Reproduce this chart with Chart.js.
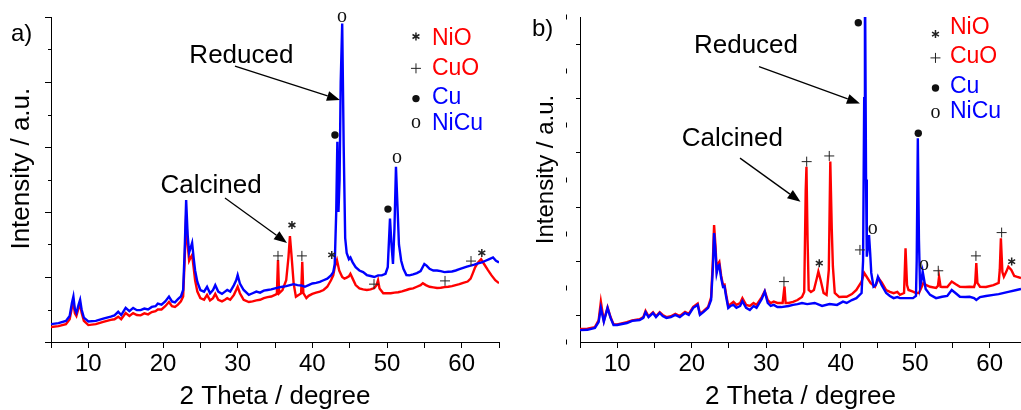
<!DOCTYPE html>
<html>
<head>
<meta charset="utf-8">
<script src="https://cdn.jsdelivr.net/npm/chart.js@4.4.1/dist/chart.umd.min.js"></script>
<style>
  html, body { margin: 0; padding: 0; background: #fff; }
  #wrap { position: relative; width: 1021px; height: 410px; overflow: hidden; }
  .panel { position: absolute; top: 0; height: 410px; }
  #pa { left: 0; width: 510px; }
  #pb { left: 510px; width: 511px; }
</style>
</head>
<body>
<div id="wrap">
  <div class="panel" id="pa"><canvas id="chartA"></canvas></div>
  <div class="panel" id="pb"><canvas id="chartB"></canvas></div>
</div>
<script>
// ── Data: [2theta, intensity] ─────────────────────────────────

// panel a) intensity scale 0-100
const aReduced = [
  [5,5.5],[6,5.8],[7,6.5],[7.5,8],[7.8,12],[8,14],[8.2,10],[8.4,9],[8.7,11.5],[8.9,13],[9.1,10],[9.4,7.5],
  [10,6.3],[11,6.5],[12,7.2],[13,7.8],[13.5,8.2],[14,9.3],[14.4,8.3],[15,10.5],[15.5,9.5],[16,10.5],[16.5,9.8],
  [17,9.8],[17.5,10.3],[18,10],[18.5,10.8],[19,11],[19.3,11.8],[19.8,11.5],[20.3,12.5],[20.8,14],[21.2,12.5],
  [21.6,12.2],[22,13.2],[22.4,14],[22.7,16],[22.9,28],[23.1,43.7],[23.3,33],[23.5,27.5],[23.7,29],[23.9,30.5],
  [24.1,26],[24.3,22],[24.6,18.5],[25,16],[25.5,15.5],[25.9,17],[26.3,15],[26.7,16],[27,17.5],[27.4,15.5],
  [27.9,14.8],[28.3,15.5],[28.6,16],[29,15.5],[29.5,17.5],[29.8,19],[30,20.6],[30.3,18],[30.8,16],[31.5,14.5],
  [32,15],[32.5,15.5],[33,15.2],[33.5,15.8],[34,16],[34.5,16.2],[35,16.5],[35.5,16.8],[36,17],[36.5,17.2],
  [37,17.5],[37.5,17.8],[38,17.5],[38.5,17.4],[39,17],[39.5,17.5],[40,18],[40.5,18.2],[41,18.5],[41.5,19],
  [42,19.5],[42.5,20.5],[42.8,21.5],[43,24],[43.2,40],[43.35,61.6],[43.5,40],[43.65,50],[43.8,80],[44,98],
  [44.2,60],[44.4,32],[44.6,27.4],[44.9,25.5],[45.1,26],[45.4,24.5],[45.8,23],[46.3,22],[46.8,21.5],[47.3,20.6],
  [47.8,20.3],[48.3,20],[48.8,20.5],[49.3,20.5],[49.8,21],[50.1,23],[50.4,38],[50.6,30],[50.8,24],[51,35],
  [51.2,53.9],[51.4,42],[51.6,30],[51.9,25],[52.2,22.5],[52.6,20.6],[53,20.5],[53.5,20.8],[54,21.2],[54.5,21.8],
  [55,24],[55.3,23.5],[55.7,22.5],[56.2,22],[56.7,22],[57.2,21.8],[57.7,21.5],[58.2,21.6],[58.7,21.7],[59.2,22],
  [59.7,22.4],[60.2,22.8],[60.7,23.2],[61.2,23.5],[61.7,23.8],[62.2,24.2],[62.7,24.5],[63.2,25],[63.7,25.5],
  [64.2,26],[64.6,25],[65,24.5]
];

const aCalcined = [
  [5,4.6],[6,4.9],[7,5.5],[7.5,7],[7.8,10.5],[8,12.3],[8.2,8.8],[8.4,8],[8.7,10.5],[8.9,11.7],[9.1,9],[9.4,6.5],
  [10,5.2],[11,5.5],[12,6.2],[13,6.8],[13.5,7],[14,7.8],[14.4,7],[15,8.9],[15.5,8],[16,8.9],[16.5,8.3],[17,8.2],
  [17.5,8.8],[18,8.5],[18.5,9.2],[19,9.5],[19.3,10],[19.8,10],[20.3,11],[20.8,12.3],[21.2,11],[21.6,10.8],
  [22,11.5],[22.4,12.5],[22.7,14],[22.9,25],[23.1,39],[23.3,30],[23.5,25],[23.7,26],[23.9,26.8],[24.1,23],
  [24.3,19],[24.6,15.5],[25,13.5],[25.5,13],[25.9,14.5],[26.3,12.8],[26.7,13.5],[27,14.8],[27.4,13],[27.9,12.5],
  [28.3,13],[28.6,13.5],[29,13],[29.5,14.5],[29.8,16],[30,17],[30.3,15],[30.8,13],[31.5,12.3],[32,12.5],
  [32.5,12.8],[33,13],[33.5,13.5],[34,13.8],[34.5,14],[35,14.5],[35.25,14.8],[35.4,25.2],[35.55,15],[36,16],
  [36.5,19],[36.8,26],[37,32.6],[37.2,27],[37.5,18],[37.8,13.9],[38.2,14.5],[38.5,15],[38.65,24.7],[38.8,15],
  [39.2,13.5],[39.5,14.2],[40,14.8],[40.5,15.2],[41,15.5],[41.5,16],[42,17],[42.5,19],[42.8,20.5],[43,23],
  [43.3,25.2],[43.6,22],[44,20],[44.3,19.5],[44.6,19.8],[44.9,20.2],[45.1,21],[45.4,19.5],[45.8,17.5],
  [46.3,16.5],[46.8,16.2],[47.3,16],[47.8,16.2],[48.3,16.6],[48.6,17.5],[48.8,19],[49,16.5],[49.5,15],[50,15],
  [50.5,15],[51,15.2],[51.5,15.3],[52,15.6],[52.6,16],[53,16.3],[53.5,16.5],[54,17],[54.5,17.5],[54.8,18.1],
  [55.2,17.5],[55.7,17],[56.2,16.8],[56.7,16.6],[57.2,16.7],[57.7,16.9],[58.2,17],[58.7,17.2],[59.2,17.5],
  [59.7,17.8],[60.2,18.2],[60.8,18.6],[61.2,19.5],[61.5,21.2],[61.8,23],[62.2,24.5],[62.6,25.5],[63,24],
  [63.5,22.2],[64,20.5],[64.5,19],[65,18.1]
];

// panel b) intensity scale 0-120
const bReduced = [
  [5,4.4],[6,4.5],[7,5.2],[7.5,7.4],[7.8,12.6],[8.2,7.5],[8.7,12.6],[9.1,8.9],[9.5,6.3],[10,6.3],[11.3,7],
  [12,7.8],[13,8.1],[13.5,8.9],[13.8,11],[14.2,9.2],[14.8,10.7],[15.2,9.2],[15.7,10.7],[16.1,9.6],[16.6,8.9],
  [17.2,9.2],[17.8,10],[18.4,9.2],[19.1,10.7],[19.6,10],[20.2,12.6],[20.8,13.7],[21.1,10],[21.6,11.1],
  [22.2,12.6],[22.6,15.5],[22.85,28],[23,40.2],[23.2,33],[23.35,25.5],[23.55,28],[23.7,28.4],[23.95,23.6],
  [24.2,20.3],[24.4,20.5],[24.6,17],[24.9,12.6],[25.2,13.3],[25.6,13.7],[26,12.6],[26.5,13.3],[26.8,15.1],
  [27.3,12.6],[27.8,11.8],[28.3,13.3],[28.7,12.6],[29.4,15.9],[29.8,18.6],[30.2,14.4],[30.6,13.3],[31,13.7],
  [31.5,12.9],[32,12.9],[33,13.3],[33.6,13.7],[34.2,14],[34.8,14.4],[35.5,14],[36.5,14.4],[37.5,13.3],
  [38.5,14],[39.5,13.7],[40.3,14.9],[40.8,14.4],[41.5,15.5],[42.1,16.2],[42.8,18.1],[43,30],[43.15,90],
  [43.25,140],[43.4,60],[43.5,31.5],[43.65,35],[43.8,39.5],[43.95,33],[44.1,25.5],[44.4,20.4],[44.7,21],
  [45,24.1],[45.5,21],[46.1,18.1],[46.6,17],[47.1,16.2],[47.6,16.6],[47.95,16.2],[49.1,16.2],[49.7,16.2],
  [50.1,17],[50.2,30],[50.35,75.2],[50.5,37.7],[50.65,20.4],[50.85,22.9],[51,26],[51.2,22.9],[51.4,19.6],
  [52,17.4],[52.8,16.2],[53.6,16.7],[54.3,17],[54.9,19.2],[55.4,18.1],[56,16.7],[56.7,16.6],[57.3,16.7],
  [57.9,16.2],[58.2,15.5],[58.7,16.6],[59.5,17],[60.5,17.4],[61.2,17.7],[62.5,18.5],[63.6,19.2],[64.2,19.6]
];

const bCalcined = [
  [5,4.8],[6,4.9],[7,5.5],[7.5,8],[7.8,14.9],[8.2,7.8],[8.7,12.8],[9.1,9.2],[9.5,6.6],[10,6.5],[11.3,7.3],
  [12,8],[13,8.4],[13.5,9.2],[13.8,11.5],[14.2,9.5],[14.8,11],[15.2,9.5],[15.7,11],[16.1,10],[16.6,9.2],
  [17.2,9.5],[17.8,10.4],[18.4,9.6],[19.1,11.1],[19.6,10.4],[20.2,13],[20.8,14.2],[21.1,10.4],[21.6,11.5],
  [22.2,13],[22.6,16.5],[22.85,31],[23,43.2],[23.2,35],[23.35,26.5],[23.55,29],[23.7,29.6],[23.95,24.5],
  [24.2,21],[24.4,21.2],[24.6,17.8],[24.9,13.3],[25.2,14],[25.6,14.8],[26,13.7],[26.5,14.4],[26.8,16.2],
  [27.3,13.7],[27.8,13.3],[28.3,14.4],[28.7,13.7],[29.4,16.6],[29.8,18.8],[30.2,15.5],[30.6,14.4],[31,14.9],
  [31.5,14.4],[32.2,14.4],[32.45,20.5],[32.6,14.4],[33,14.4],[33.6,14.8],[34.2,15.5],[34.8,16.6],[35.1,18.5],
  [35.3,56],[35.4,64.7],[35.55,37.7],[35.7,19.2],[36,18.5],[36.4,19.2],[36.8,23.6],[37,26],[37.3,22.9],
  [37.7,18.1],[38.1,17.4],[38.4,26.6],[38.6,66.6],[38.8,41.4],[38.95,27.8],[39.2,18.1],[39.8,16.6],[40.3,16.7],
  [40.8,16.7],[41.5,17.7],[42.1,19.2],[42.8,22.3],[43.15,25.5],[43.5,24],[44,21.8],[44.6,20.4],[45.1,23.5],
  [45.5,22],[46.1,19.2],[46.6,18.5],[47.1,18],[47.6,18.5],[47.95,17.4],[48.5,18.1],[48.7,34.6],[48.9,21],
  [49.1,19.2],[49.7,18.6],[50.1,18.1],[50.5,18.1],[51.1,21.8],[51.5,21],[52,20.4],[52.8,20],[53.05,20.7],
  [53.2,24.1],[53.4,20.4],[53.6,20.3],[54.3,20.3],[54.9,22.3],[55.4,21.4],[56,20.4],[56.7,20.3],[57.3,20.4],
  [57.9,20.3],[58.05,21.8],[58.2,29.1],[58.35,21.8],[58.7,20.4],[59.5,20.3],[60.5,21],[61.2,21.8],[61.35,26.6],
  [61.5,38.3],[61.7,25.8],[61.9,24.1],[62.2,25.8],[62.5,27.8],[62.9,26.6],[63.3,24.4],[63.6,24.1],[64.2,23.6]
];

// peak markers: [symbol, 2theta, intensity]
const aPeakMarks = [
  ["o", 43.97, 100], ["dot", 43.03, 63.7], ["o", 51.34, 56.6], ["dot", 50.13, 40.9],
  ["*", 37.27, 36], ["+", 35.4, 26.5], ["+", 38.6, 26.5], ["*", 42.6, 26.8],
  ["+", 48.26, 17.8], ["+", 57.77, 18.8], ["+", 61.25, 24.9], ["*", 62.7, 27.4],
];
const bPeakMarks = [
  ["dot", 42.36, 117.9], ["dot", 50.41, 77.1], ["+", 35.43, 66.6], ["+", 38.46, 68.7],
  ["+", 32.38, 22.3], ["*", 37.12, 29.1], ["+", 42.58, 34], ["o", 44.29, 41.4],
  ["o", 51.17, 28.1], ["+", 53.09, 26.3], ["+", 58.15, 31.8], ["+", 61.6, 40.4], ["*", 62.95, 29.7],
];

const phaseNames = ["NiO", "CuO", "Cu", "NiCu"];
const phaseSymbols = ["*", "+", "dot", "o"];
const phaseColors = ["#ff0000", "#ff0000", "#0000ff", "#0000ff"];

const xTitle = "2 Theta / degree";
const yTitle = "Intensity / a.u.";

// ── Drawing helpers ───────────────────────────────────────────

function drawMark(ctx, sym, cx, cy) {
  ctx.save();
  ctx.strokeStyle = "#222";
  ctx.fillStyle = "#111";
  if (sym === "+") {
    ctx.lineWidth = 1;
    ctx.beginPath();
    ctx.moveTo(cx - 5, cy); ctx.lineTo(cx + 5, cy);
    ctx.moveTo(cx, cy - 5); ctx.lineTo(cx, cy + 5);
    ctx.stroke();
  } else if (sym === "*") {
    ctx.lineWidth = 1.5;
    ctx.beginPath();
    for (let k = 0; k < 3; k++) {
      const a = Math.PI / 2 + (k * Math.PI) / 3;
      ctx.moveTo(cx - 4 * Math.cos(a), cy - 4 * Math.sin(a));
      ctx.lineTo(cx + 4 * Math.cos(a), cy + 4 * Math.sin(a));
    }
    ctx.stroke();
  } else if (sym === "dot") {
    ctx.beginPath();
    ctx.arc(cx, cy, 3.7, 0, Math.PI * 2);
    ctx.fill();
  } else if (sym === "o") {
    ctx.font = '20px "Liberation Serif"';
    ctx.textAlign = "center";
    ctx.textBaseline = "alphabetic";
    ctx.fillText("o", cx, cy + 4.5);
  }
  ctx.restore();
}

function drawArrow(ctx, x1, y1, x2, y2) {
  const ang = Math.atan2(y2 - y1, x2 - x1);
  const head = 13, half = 5;
  const bx = x2 - head * Math.cos(ang), by = y2 - head * Math.sin(ang);
  ctx.save();
  ctx.strokeStyle = "#000";
  ctx.fillStyle = "#000";
  ctx.lineWidth = 1.3;
  ctx.beginPath();
  ctx.moveTo(x1, y1);
  ctx.lineTo(bx, by);
  ctx.stroke();
  ctx.beginPath();
  ctx.moveTo(x2, y2);
  ctx.lineTo(bx + half * Math.sin(ang), by - half * Math.cos(ang));
  ctx.lineTo(bx - half * Math.sin(ang), by + half * Math.cos(ang));
  ctx.closePath();
  ctx.fill();
  ctx.restore();
}

// Custom plugin: intensity-axis tick marks, phase markers, arrows and legend
const decorPlugin = {
  id: "xrdDecor",
  afterDraw(chart, args, o) {
    const { ctx, chartArea: area, scales } = chart;
    const px = (v) => scales.x.getPixelForValue(v);
    const py = (v) => scales.y.getPixelForValue(v);
    ctx.save();

    ctx.strokeStyle = "#000";
    ctx.lineWidth = 1;
    for (let v = 0; v <= o.yMax; v += 10) {
      const ty = Math.round(py(v)) + 0.5;
      const major = v % 20 === 0;
      ctx.beginPath();
      if (o.splitTicks) {
        if (major) {
          ctx.moveTo(area.left - 13.5, ty - 3);
          ctx.lineTo(area.left - 13.5, ty + 2);
        } else {
          ctx.moveTo(area.left - 4, ty);
          ctx.lineTo(area.left, ty);
        }
      } else {
        const len = major ? 6 : 3;
        ctx.moveTo(area.left - len, ty);
        ctx.lineTo(area.left, ty);
      }
      ctx.stroke();
    }

    o.marks.forEach(([sym, x, y]) => drawMark(ctx, sym, px(x), py(y)));

    ctx.fillStyle = "#000";
    ctx.font = '26px "Liberation Sans"';
    ctx.textAlign = "center";
    ctx.textBaseline = "middle";
    o.notes.forEach((n) => {
      ctx.fillText(n.text, px(n.x), py(n.y));
      drawArrow(ctx, px(n.from[0]), py(n.from[1]), px(n.to[0]), py(n.to[1]));
    });

    ctx.font = '23px "Liberation Sans"';
    ctx.textAlign = "left";
    phaseNames.forEach((name, i) => {
      drawMark(ctx, phaseSymbols[i], px(o.legend.markX), py(o.legend.markY[i]));
      ctx.fillStyle = phaseColors[i];
      ctx.fillText(name, px(o.legend.textX), py(o.legend.textY[i]));
    });

    ctx.fillStyle = "#000";
    ctx.font = '24px "Liberation Sans"';
    ctx.textBaseline = "alphabetic";
    ctx.fillText(o.label.text, o.label.x, o.label.y);
    ctx.restore();
  },
};

function buildChart(canvasId, cfg) {
  return new Chart(document.getElementById(canvasId), {
    type: "line",
    plugins: [decorPlugin],
    data: {
      datasets: [
        {
          label: "Reduced",
          data: cfg.reduced.map(([x, y]) => ({ x, y })),
          borderColor: "#0000ff",
        },
        {
          label: "Calcined",
          data: cfg.calcined.map(([x, y]) => ({ x, y })),
          borderColor: "#ff0000",
        },
      ],
    },
    options: {
      responsive: true,
      maintainAspectRatio: false,
      animation: false,
      devicePixelRatio: 1,
      events: [],
      layout: { padding: { left: 0, right: cfg.padRight, top: 17, bottom: 0 } },
      elements: {
        point: { radius: 0 },
        line: { borderWidth: 2.4, tension: 0 },
      },
      scales: {
        x: {
          type: "linear",
          min: 5,
          max: cfg.xMax,
          afterFit: (scale) => { scale.height = 68; },
          border: { display: true, color: "#000", width: 1 },
          grid: { display: true, drawOnChartArea: false, drawTicks: true, tickLength: 6, color: "#000" },
          ticks: {
            stepSize: 5,
            includeBounds: false,
            autoSkip: false,
            maxRotation: 0,
            padding: 4,
            color: "#000",
            font: { size: 24, lineHeight: 1 },
            callback: (v) => (v % 10 === 0 ? String(v) : ""),
          },
          title: {
            display: true,
            text: xTitle,
            color: "#000",
            font: { size: 26, lineHeight: 1 },
            padding: { top: 0, bottom: 0 },
          },
        },
        y: {
          min: 0,
          max: cfg.yMax,
          afterFit: (scale) => { scale.width = cfg.yWidth; },
          border: { display: true, color: "#000", width: 1 },
          grid: { display: false },
          ticks: { display: false },
          title: {
            display: true,
            text: "   " + yTitle,
            color: "#000",
            font: { size: cfg.yTitleSize, lineHeight: 1 },
            padding: { top: cfg.yTitlePad, bottom: 0 },
          },
        },
      },
      plugins: {
        legend: { display: false },
        tooltip: { enabled: false },
        xrdDecor: cfg.decor,
      },
    },
  });
}

Chart.defaults.font.family = '"Liberation Sans", Arial, sans-serif';
Chart.defaults.color = "#000";

buildChart("chartA", {
  reduced: aReduced,
  calcined: aCalcined,
  xMax: 65,
  yMax: 100,
  yWidth: 51,
  padRight: 11,
  yTitleSize: 26,
  yTitlePad: 9,
  decor: {
    yMax: 100,
    splitTicks: false,
    marks: aPeakMarks,
    notes: [
      { text: "Reduced", x: 30.5, y: 88, from: [29.64, 84.9], to: [43.7, 74.5] },
      { text: "Calcined", x: 26.43, y: 48, from: [28.3, 44.3], to: [36.61, 30.5] },
    ],
    legend: { markX: 53.88, textX: 56.02, markY: [94, 84.2, 74.9, 67.3], textY: [93.2, 84, 75.2, 67.1] },
    label: { text: "a)", x: 11, y: 41 },
  },
});

buildChart("chartB", {
  reduced: bReduced,
  calcined: bCalcined,
  xMax: 64.2,
  yMax: 120,
  yWidth: 70,
  padRight: 0,
  yTitleSize: 24,
  yTitlePad: 24.5,
  decor: {
    yMax: 120,
    splitTicks: true,
    marks: bPeakMarks,
    notes: [
      { text: "Reduced", x: 27.28, y: 109.3, from: [29.03, 101.7], to: [42.58, 88.1] },
      { text: "Calcined", x: 25.44, y: 75, from: [26.48, 67.9], to: [34.6, 51.8] },
    ],
    legend: { markX: 52.72, textX: 54.66, markY: [113.7, 104.9, 93.8, 84.2], textY: [116.1, 105.2, 94.2, 84.9] },
    label: { text: "b)", x: 22, y: 36 },
  },
});
</script>
</body>
</html>
